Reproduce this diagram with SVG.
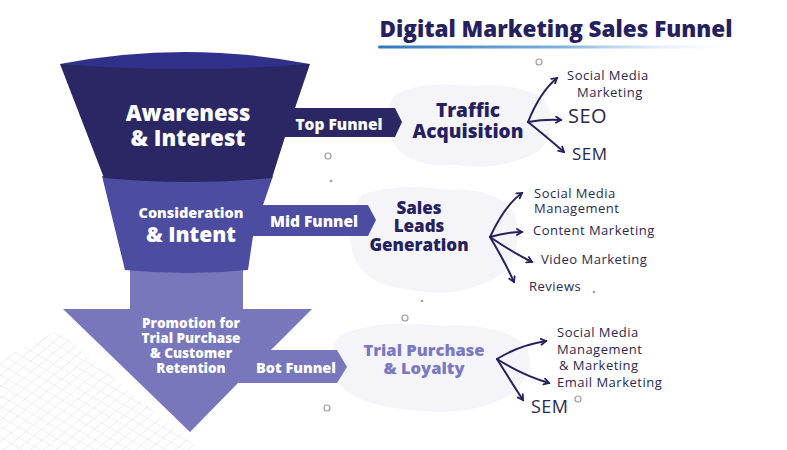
<svg xmlns="http://www.w3.org/2000/svg" width="787" height="450" viewBox="0 0 787 450">
<defs>
  <style>
    .h{font-family:"Open Sans","Liberation Sans",sans-serif;font-weight:800;text-anchor:middle}
    .w{fill:#ffffff}
    .navy{fill:#25215e}
    .lav{fill:#7a78c0}
    .t{font-family:"Open Sans","Liberation Sans",sans-serif;fill:#2b2850;letter-spacing:0.5px}
    .br{fill:none;stroke:#25215e;stroke-width:2;stroke-linecap:round;marker-end:url(#ah)}
    .dot{fill:none;stroke:#9c9cab;stroke-width:1.2}
    .blob{fill:#f5f5f9}
  </style>
  <marker id="ah" viewBox="0 0 8 8" refX="6" refY="4" markerWidth="8" markerHeight="8" markerUnits="userSpaceOnUse" orient="auto">
    <path d="M1,1 L6,4 L1,7" fill="none" stroke="#25215e" stroke-width="1.8" stroke-linecap="round"/>
  </marker>
  <linearGradient id="ul" x1="0" x2="1" y1="0" y2="0">
    <stop offset="0" stop-color="#2f78bd"/>
    <stop offset="0.5" stop-color="#7fb0dc"/>
    <stop offset="1" stop-color="#ffffff" stop-opacity="0"/>
  </linearGradient>
  <pattern id="grid" width="9" height="9" patternUnits="userSpaceOnUse" patternTransform="rotate(30) skewX(-20)">
    <path d="M0,0 H9 M0,0 V9" fill="none" stroke="#e2e2ea" stroke-width="1"/>
  </pattern>
  <clipPath id="gc"><polygon points="0,360 57,330 200,450 0,450"/></clipPath>
</defs>
<rect width="787" height="450" fill="#ffffff"/>

<!-- background decoration -->
<rect x="0" y="320" width="210" height="130" fill="url(#grid)" clip-path="url(#gc)"/>
<path class="blob" d="M395,95 Q420,80 470,86 Q520,82 545,100 Q560,125 540,150 Q505,172 455,165 Q405,168 392,140 Q380,115 395,95 Z"/>
<path class="blob" d="M362,195 Q395,182 450,190 Q500,188 515,215 Q525,250 500,275 Q460,300 410,290 Q360,285 352,250 Q345,215 362,195 Z"/>
<path class="blob" d="M340,335 Q380,318 440,326 Q500,322 525,345 Q540,372 510,395 Q470,418 410,410 Q350,405 335,378 Q325,352 340,335 Z"/>
<circle class="dot" cx="328" cy="156" r="3"/>
<circle cx="331" cy="181" r="1.3" fill="#9c9cab"/>
<circle class="dot" cx="539" cy="62" r="3"/>
<circle class="dot" cx="405" cy="318" r="3"/>
<circle class="dot" cx="327" cy="408" r="3"/>
<circle class="dot" cx="578" cy="399" r="3"/>
<circle cx="594" cy="292" r="1.3" fill="#9c9cab"/>
<circle cx="422" cy="301" r="1.3" fill="#9c9cab"/>

<!-- title -->
<g id="title">
  <text class="h navy" x="556" y="37" font-size="22" textLength="353" lengthAdjust="spacingAndGlyphs">Digital Marketing Sales Funnel</text>
  <rect x="378" y="45.5" width="368" height="3" rx="1.5" fill="url(#ul)"/>
</g>

<!-- funnel -->
<g id="funnel-bottom">
  <path d="M130,266 H243 V309 H312 L271,350 H337 L347,367 L337,383 H238 L190,432 L63,309 H130 Z" fill="#7877bc"/>
  <text class="h w" font-size="13.5"><tspan x="191" y="328">Promotion for</tspan><tspan x="191" y="343">Trial Purchase</tspan><tspan x="191" y="358">&amp; Customer</tspan><tspan x="191" y="373">Retention</tspan></text>
  <text class="h w" x="296" y="373" font-size="14.5">Bot Funnel</text>
</g>
<g id="funnel-mid">
  <path d="M102,176 L273,176 L263,205 H368 L376,220 L368,236 H253 L248,270 Q188,276 125,270 Z" fill="#4c4ca0"/>
  <text class="h w" x="191" y="218" font-size="14.5">Consideration</text>
  <text class="h w" x="191" y="242" font-size="21">&amp; Intent</text>
  <text class="h w" x="314" y="227" font-size="15.5">Mid Funnel</text>
</g>
<g id="funnel-top">
  <path d="M60,64 L310,64 L295,108 H395 L402,122 L395,137 H285 L272,178 Q188,186 104,178 Z" fill="#2a2764"/>
  <path d="M60,64 Q185,40 310,64 Q185,74 60,64 Z" fill="#30318b"/>
  <text class="h w" x="188" y="121" font-size="22">Awareness</text>
  <text class="h w" x="188" y="146" font-size="22">&amp; Interest</text>
  <text class="h w" x="339" y="130" font-size="15.5">Top Funnel</text>
</g>

<!-- stage nodes -->
<g id="traffic">
  <text class="h navy" font-size="19"><tspan x="468" y="117">Traffic</tspan><tspan x="468" y="138">Acquisition</tspan></text>
</g>
<g id="leads">
  <text class="h navy" font-size="17"><tspan x="419" y="214">Sales</tspan><tspan x="419" y="232">Leads</tspan><tspan x="419" y="251">Generation</tspan></text>
</g>
<g id="trial">
  <text class="h lav" font-size="16.5"><tspan x="424" y="356">Trial Purchase</tspan><tspan x="424" y="374">&amp; Loyalty</tspan></text>
</g>

<!-- leaf nodes -->
<g id="smm1"><text class="t" font-size="13"><tspan x="567" y="80">Social Media</tspan><tspan x="577" y="97">Marketing</tspan></text></g>
<g id="seo"><text class="t" x="568" y="123" font-size="20">SEO</text></g>
<g id="sem1"><text class="t" x="572" y="160" font-size="17">SEM</text></g>
<g id="smm2"><text class="t" font-size="13"><tspan x="534" y="198">Social Media</tspan><tspan x="534" y="213">Management</tspan></text></g>
<g id="content"><text class="t" x="533" y="235" font-size="13">Content Marketing</text></g>
<g id="video"><text class="t" x="541" y="264" font-size="13">Video Marketing</text></g>
<g id="reviews"><text class="t" x="529" y="291" font-size="13">Reviews</text></g>
<g id="smm3"><text class="t" font-size="13"><tspan x="557" y="337">Social Media</tspan><tspan x="557" y="354">Management</tspan><tspan x="559" y="370">&amp; Marketing</tspan></text></g>
<g id="email"><text class="t" x="557" y="387" font-size="13">Email Marketing</text></g>
<g id="sem2"><text class="t" x="531" y="413" font-size="18">SEM</text></g>

<!-- connectors -->
<g id="connectors">
  <path class="br" d="M528,122 Q540,92 557,78"/>
  <path class="br" d="M528,122 Q545,119 561,120"/>
  <path class="br" d="M528,122 Q548,138 564,152"/>
  <path class="br" d="M490,237 Q505,205 522,193"/>
  <path class="br" d="M490,237 Q507,232 522,232"/>
  <path class="br" d="M490,237 Q512,252 532,262"/>
  <path class="br" d="M490,237 Q505,262 514,282"/>
  <path class="br" d="M497,359 Q520,345 546,341"/>
  <path class="br" d="M497,359 Q522,375 549,383"/>
  <path class="br" d="M497,359 Q512,383 523,400"/>
</g>
</svg>
